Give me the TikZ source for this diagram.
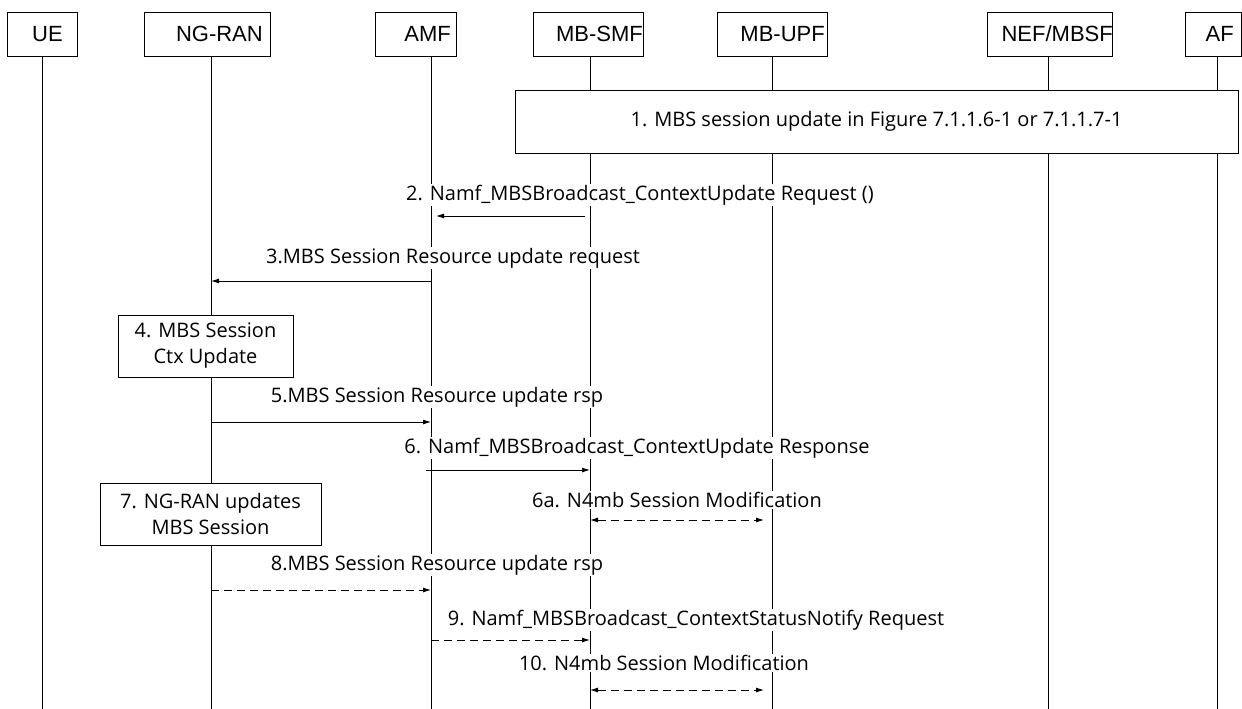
\documentclass[tikz,border=0pt]{standalone}
\usepackage{fontspec}
\setmainfont{Open Sans}
\newfontfamily\headfont{Liberation Sans}
\usetikzlibrary{arrows.meta}
\tikzset{
  headbox/.style={draw, line width=0.9pt, minimum height=44pt, inner sep=0pt},
  headtext/.style={font=\headfont\fontsize{22}{26}\selectfont, inner sep=0pt, anchor=east},
  life/.style={line width=0.9pt},
  stepbox/.style={draw, fill=white, line width=0.9pt, align=center, inner sep=0pt,
    font=\fontsize{20}{26}\selectfont},
  lbl/.style={fill=white, inner sep=1pt, font=\fontsize{20}{24}\selectfont},
  tip/.tip={Latex[length=8pt,width=5pt]},
  msg/.style={line width=0.9pt, -tip},
  rsp/.style={msg, dash pattern=on 8pt off 5pt},
  both/.style={rsp, tip-tip, shorten >=8pt},
}
\begin{document}
\begin{tikzpicture}[x=1pt, y=-1pt]
    \useasboundingbox (0,0) rectangle (1242,709);
    % entities and lifelines
    \foreach \n/\bx/\w/\tr/\lx/\t in {ue/42/70/63/42/UE, ran/207/126/263/211/NG-RAN,
        amf/416/81/451/431/AMF, smf/588/110/643/590/MB-SMF, upf/772/110/825/772/MB-UPF,
        nef/1050/125/1113/1048/{NEF/MBSF}, af/1213/56/1234/1217/AF}
    {%
        \node[headbox, minimum width=\w] (\n) at (\bx,34) {};
        \node[headtext] (\n-txt) at (\tr,34) {\t};
        \coordinate (\n-end) at (\lx,709);
        \draw[life] (\n.south -| \n-end) -- (\n-end);
    }%
    % message rows
    \foreach \r/\y in {r2/216, r3/281, r5/422, r6/470, r6a/520, r8/590, r9/640, r10/690}
        \coordinate (\r) at (0,\y);
    %
    \node[stepbox, minimum width=723, minimum height=63] (s1) at (876.5,121.5)
        {1. MBS session update in Figure 7.1.1.6-1 or 7.1.1.7-1};
    \node[stepbox, minimum width=175, minimum height=62] (s4) at (205.5,346)
        {4. MBS Session\\Ctx Update};
    \node[stepbox, minimum width=221, minimum height=62] (s7) at (210.5,514)
        {7. NG-RAN updates\\MBS Session};
    %
    \node[lbl] (l2) at (640,195) {2. Namf\_MBSBroadcast\_ContextUpdate Request ()};
    \node[lbl] (l3) at (453,258) {3.MBS Session Resource update request};
    \node[lbl] (l5) at (437,397) {5.MBS Session Resource update rsp};
    \node[lbl] (l6) at (637,448) {6. Namf\_MBSBroadcast\_ContextUpdate Response};
    \node[lbl] (l6a) at (677,500) {6a. N4mb Session Modification};
    \node[lbl] (l8) at (437,565) {8.MBS Session Resource update rsp};
    \node[lbl] (l9) at (696,620) {9. Namf\_MBSBroadcast\_ContextStatusNotify Request};
    \node[lbl] (l10) at (664,663) {10. N4mb Session Modification};
    %
    \draw[msg, shorten <=5pt, shorten >=5pt] (smf-end |- r2) -- (amf-end |- r2);
    \draw[msg] (amf-end |- r3) -- (ran-end |- r3);
    \draw[msg] (ran-end |- r5) -- (amf-end |- r5);
    \draw[msg, shorten <=-5pt] (amf-end |- r6) -- (smf-end |- r6);
    \draw[both] (smf-end |- r6a) -- (upf-end |- r6a);
    \draw[rsp] (ran-end |- r8) -- (amf-end |- r8);
    \draw[rsp] (amf-end |- r9) -- (smf-end |- r9);
    \draw[both] (smf-end |- r10) -- (upf-end |- r10);
\end{tikzpicture}
\end{document}
